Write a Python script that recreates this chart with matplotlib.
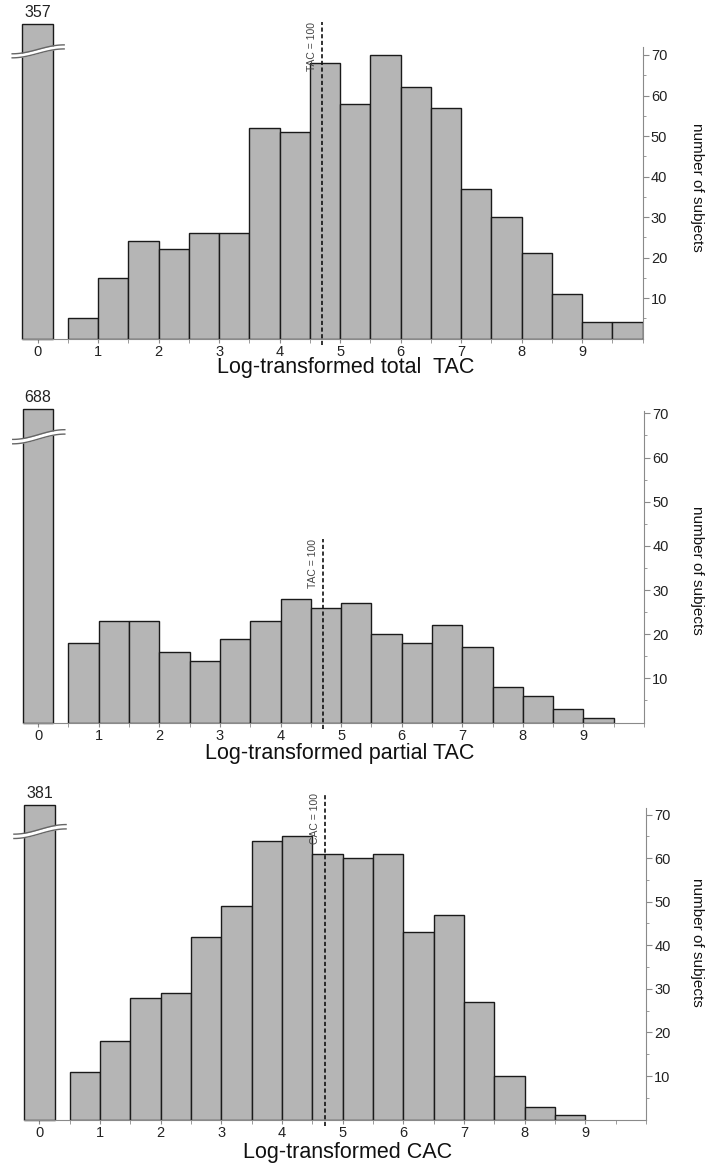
import numpy as np
import matplotlib
matplotlib.use("Agg")
import matplotlib.pyplot as plt

plt.rcParams['font.family'] = ['Liberation Sans', 'DejaVu Sans']

# counts per 0.5-wide bin, first bin starts at 0.5
total_tac = [5, 15, 24, 22, 26, 26, 52, 51, 68, 58, 70, 62, 57, 37, 30, 21, 11, 4, 4]
partial_tac = [18, 23, 23, 16, 14, 19, 23, 28, 26, 27, 20, 18, 22, 17, 8, 6, 3, 1]
cac = [11, 18, 28, 29, 42, 49, 64, 65, 61, 60, 61, 43, 47, 27, 10, 3, 1]

zero_counts = [357, 688, 381]
xlabels = ['Log-transformed total  TAC', 'Log-transformed partial TAC', 'Log-transformed CAC']
cut_labels = ['TAC = 100', 'TAC = 100', 'CAC = 100']
cut_x = 4.7
bin_start = 0.5
bin_w = 0.5
x_ticks = list(range(10))
y_ticks = [10, 20, 30, 40, 50, 60, 70]
y_minor = [5, 15, 25, 35, 45, 55, 65]

# layout (pixels): left, right, top, bottom, ymax, zero bar drawn height, break centre,
# cut line top, ylabel centre y, xlabel centre x, xlabel offset below baseline
panels = [
    (19.4, 642.5, 46.9, 338.5, 72.0, 77.7, 71.5, 78.2, 187, 346, 29),
    (20.0, 644.0, 410.7, 722.5, 70.6, 70.9, 65.3, 41.5, 570, 340, 31),
    (21.2, 646.0, 808.0, 1119.6, 71.5, 72.2, 66.7, 74.9, 942, 348, 33),
]
W, H = 708, 1163
bar_color = '#b5b5b5'
axis_color = '#8a8a8a'

fig = plt.figure(figsize=(W / 100, H / 100), dpi=100)

for i, counts in enumerate([total_tac, partial_tac, cac]):
    left, right, top, bottom, ymax, zh, brk, cut_top, ylab_y, xlab_x, xlab_off = panels[i]
    ax = fig.add_axes([left / W, 1 - bottom / H, (right - left) / W, (bottom - top) / H])
    ax.set_xlim(-0.3, 10.0)
    ax.set_ylim(0, ymax)

    edges = bin_start + bin_w * np.arange(len(counts))
    ax.bar(edges, counts, width=bin_w, align='edge', color=bar_color,
           edgecolor='#1a1a1a', linewidth=1.0, zorder=2)

    # broken zero bar
    ax.bar([0], [zh], width=0.5, color=bar_color, edgecolor='#1a1a1a',
           linewidth=1.0, zorder=2, clip_on=False)
    ax.text(0, zh + 0.9, str(zero_counts[i]), ha='center', va='bottom',
            fontsize=11.5, color='#222222')
    xs = np.linspace(-0.42, 0.44, 60)
    t = (xs - xs[0]) / (xs[-1] - xs[0])
    y_low = brk - 1.1 + 1.1 * np.sin(np.pi * (t - 0.5))
    gap = 1.0
    ax.fill_between(xs, y_low, y_low + gap, color='white', zorder=3, clip_on=False, lw=0)
    ax.plot(xs, y_low, color='#666666', lw=1.0, zorder=4, clip_on=False)
    ax.plot(xs, y_low + gap, color='#666666', lw=1.0, zorder=4, clip_on=False)

    # cut-off line
    ax.plot([cut_x, cut_x], [-1.5, cut_top], color='#111111', lw=1.2,
            ls=(0, (2.5, 1.5)), zorder=5, clip_on=False)
    ax.text(cut_x - 0.16, cut_top, cut_labels[i], rotation=90, ha='center', va='top',
            fontsize=7.5, color='#444444')

    for s in ['left', 'top']:
        ax.spines[s].set_visible(False)
    ax.spines['bottom'].set_color(axis_color)
    ax.spines['bottom'].set_bounds(-0.25, 10.0)
    ax.spines['right'].set_color(axis_color)
    ax.spines['right'].set_bounds(0, ymax)

    ax.set_xticks(x_ticks)
    ax.set_xticks(list(np.arange(0.5, 10.01, 0.5)), minor=True)
    ax.tick_params(axis='x', which='both', length=3, color=axis_color,
                   labelsize=10.5, labelcolor='#222222', pad=1.5)

    ax.yaxis.tick_right()
    ax.set_yticks(y_ticks)
    ax.set_yticks(y_minor, minor=True)
    ax.tick_params(axis='y', which='major', length=4, color=axis_color,
                   labelsize=10.5, labelcolor='#222222', pad=2)
    ax.tick_params(axis='y', which='minor', length=2.5, color=axis_color)

    fig.text(xlab_x / W, 1 - (bottom + xlab_off) / H, xlabels[i], ha='center', va='center',
             fontsize=15.5, color='#111111')
    fig.text(697 / W, 1 - ylab_y / H, 'number of subjects', rotation=270,
             ha='center', va='center', fontsize=11, color='#111111')

fig.savefig('out.png', dpi=100)
